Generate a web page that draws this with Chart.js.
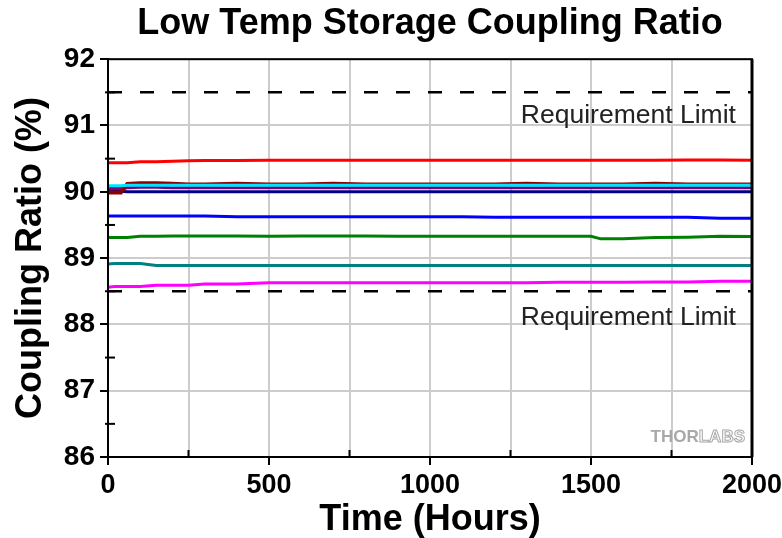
<!DOCTYPE html>
<html><head><meta charset="utf-8">
<script src="https://cdn.jsdelivr.net/npm/chart.js@4"></script>
<style>html,body{margin:0;padding:0;background:#fff}#wrap{width:782px;height:538px}</style>
</head><body><div id="wrap"><canvas id="c" width="782" height="538"></canvas></div>
<script>
const hours = [0,20,40,60,100,150,200,250,300,400,500,600,700,800,900,1000,1100,1200,1300,1400,1500,1530,1600,1700,1800,1900,2000];
const redSeries     = [90.44,90.44,90.44,90.44,90.455,90.455,90.46,90.47,90.472,90.473,90.474,90.474,90.475,90.475,90.475,90.475,90.476,90.476,90.476,90.476,90.476,90.476,90.477,90.477,90.478,90.478,90.477];
const cyanSeries    = [90.09,90.09,90.09,90.10,90.10,90.10,90.10,90.10,90.10,90.10,90.10,90.10,90.10,90.10,90.10,90.10,90.10,90.10,90.10,90.10,90.10,90.10,90.10,90.10,90.10,90.10,90.10];
const maroonSeries  = [89.99,89.99,89.99,90.12,90.13,90.13,90.12,90.11,90.11,90.12,90.11,90.11,90.12,90.11,90.11,90.11,90.11,90.11,90.12,90.11,90.11,90.11,90.11,90.12,90.11,90.11,90.11];
const purpleSeries  = [90.05,90.05,90.05,90.06,90.07,90.07,90.06,90.06,90.06,90.06,90.06,90.06,90.06,90.06,90.06,90.06,90.06,90.06,90.06,90.06,90.06,90.06,90.06,90.06,90.06,90.06,90.06];
const navySeries    = [90.01,90.01,90.01,90.00,90.00,90.00,90.00,90.00,90.00,90.00,90.00,90.00,90.00,90.00,90.00,90.00,90.00,90.00,90.00,90.00,90.00,90.00,90.00,90.00,90.00,90.00,90.00];
const blueSeries    = [89.635,89.635,89.635,89.635,89.635,89.635,89.635,89.635,89.635,89.625,89.625,89.625,89.625,89.625,89.625,89.625,89.625,89.615,89.615,89.615,89.615,89.615,89.615,89.615,89.615,89.60,89.60];
const greenSeries   = [89.31,89.31,89.31,89.31,89.33,89.33,89.335,89.335,89.335,89.335,89.33,89.335,89.335,89.335,89.33,89.33,89.33,89.33,89.33,89.33,89.33,89.29,89.29,89.31,89.315,89.33,89.325];
const tealSeries    = [88.91,88.92,88.92,88.92,88.92,88.89,88.89,88.89,88.89,88.89,88.89,88.89,88.89,88.89,88.89,88.89,88.89,88.89,88.89,88.89,88.89,88.89,88.89,88.89,88.89,88.89,88.89];
const magentaSeries = [88.56,88.57,88.57,88.57,88.57,88.59,88.59,88.59,88.61,88.61,88.63,88.63,88.63,88.63,88.63,88.63,88.63,88.63,88.63,88.635,88.635,88.635,88.635,88.64,88.64,88.65,88.65];
const upperLimit = [91.5,91.5];
const lowerLimit = [88.5,88.5];
const limitHours = [0,2000];
const yTicks = [86,87,88,89,90,91,92];
const xTicks = [0,500,1000,1500,2000];
const titleText = 'Low Temp Storage Coupling Ratio';
const xTitle = 'Time (Hours)';
const yTitle = 'Coupling Ratio (%)';
const limitLabel = 'Requirement Limit';

const pts = (xs, ys) => xs.map((x,i)=>({x, y: ys[i]}));
const line = (ys, color, w) => ({data: pts(hours, ys), borderColor: color, borderWidth: w, pointRadius: 0, fill: false, tension: 0});

const FONT = 'Arial, "Liberation Sans", sans-serif';

const extras = {
  id: 'extras',
  afterDraw(chart) {
    const {ctx, chartArea: a, scales: {x, y}} = chart;
    ctx.save();
    ctx.strokeStyle = '#000'; ctx.lineWidth = 2;
    for (let v = 250; v < 2000; v += 500) {
      const px = x.getPixelForValue(v);
      ctx.beginPath(); ctx.moveTo(px, a.bottom); ctx.lineTo(px, a.bottom - 7); ctx.stroke();
    }
    for (let v = 86.5; v < 92; v += 1) {
      const py = y.getPixelForValue(v);
      ctx.beginPath(); ctx.moveTo(a.left - 3, py); ctx.lineTo(a.left + 7, py); ctx.stroke();
    }
    ctx.lineWidth = 2;
    ctx.strokeRect(a.left, a.top, a.right - a.left, a.bottom - a.top);
    ctx.lineWidth = 3;
    ctx.beginPath(); ctx.moveTo(a.right, a.top); ctx.lineTo(a.right, a.bottom); ctx.stroke();
    ctx.fillStyle = '#222';
    ctx.font = '26.5px ' + FONT;
    ctx.textAlign = 'right'; ctx.textBaseline = 'middle';
    ctx.fillText(limitLabel, x.getPixelForValue(1950), y.getPixelForValue(91.15));
    ctx.fillText(limitLabel, x.getPixelForValue(1950), y.getPixelForValue(88.1));
    ctx.font = 'bold 17px ' + FONT;
    ctx.textAlign = 'left';
    const w1 = ctx.measureText('THOR').width, w2 = ctx.measureText('LABS').width;
    const wx = a.right - 7 - w1 - w2, wy = a.bottom - 20;
    ctx.fillStyle = '#a8a8a8';
    ctx.fillText('THOR', wx, wy);
    ctx.strokeStyle = '#a8a8a8'; ctx.lineWidth = 1;
    ctx.strokeText('LABS', wx + w1, wy);
    ctx.restore();
  }
};

new Chart(document.getElementById('c'), {
  type: 'line',
  data: {
    datasets: [
      {data: pts(limitHours, upperLimit), borderColor: '#000', borderWidth: 2.5, borderDash: [14,18], pointRadius: 0},
      {data: pts(limitHours, lowerLimit), borderColor: '#000', borderWidth: 2.5, borderDash: [14,18], pointRadius: 0},
      line(redSeries, '#ff0000', 3),
      line(cyanSeries, '#00e5ff', 3),
      line(maroonSeries, '#8b0000', 4),
      line(purpleSeries, '#800080', 3),
      line(navySeries, '#00008b', 3),
      line(blueSeries, '#0000ff', 3),
      line(greenSeries, '#008000', 3),
      line(tealSeries, '#008080', 3),
      line(magentaSeries, '#ff00ff', 3)
    ]
  },
  options: {
    responsive: false, animation: false,
    layout: {padding: {top: 0, right: 30, left: 0, bottom: 0}},
    plugins: {
      legend: {display: false}, tooltip: {enabled: false},
      title: {display: true, fullSize: false, text: titleText, color: '#000', font: {family: FONT, size: 36, weight: 'bold'}, padding: {top: 2, bottom: 14}}
    },
    scales: {
      x: {
        type: 'linear', min: 0, max: 2000,
        afterBuildTicks: s => { s.ticks = [0,250,500,750,1000,1250,1500,1750,2000].map(v => ({value: v})); },
        afterFit: s => { s.height = 81; s.paddingRight = 0; s.paddingLeft = 0; },
        ticks: {color: '#000', font: {family: FONT, size: 27, weight: 'bold'}, padding: 4, maxRotation: 0,
          callback: v => xTicks.includes(v) ? String(v) : ''},
        grid: {color: '#cccccc', lineWidth: 2, tickLength: 8, tickColor: c => (c.tick && xTicks.includes(c.tick.value)) ? '#000' : 'rgba(0,0,0,0)', tickWidth: 2},
        border: {color: '#000', width: 2},
        title: {display: true, text: xTitle, color: '#000', font: {family: FONT, size: 36, weight: 'bold', lineHeight: 1.0}, padding: {top: 0, bottom: 0}}
      },
      y: {
        type: 'linear', min: 86, max: 92,
        afterBuildTicks: s => { s.ticks = [86,86.5,87,87.5,88,88.5,89,89.5,90,90.5,91,91.5,92].map(v => ({value: v})); },
        afterFit: s => { s.width = 108; },
        ticks: {color: '#000', font: {family: FONT, size: 28, weight: 'bold'}, padding: 5,
          callback: v => yTicks.includes(v) ? String(v) : ''},
        grid: {color: '#cccccc', lineWidth: 2, tickLength: 8, tickColor: c => (c.tick && yTicks.includes(c.tick.value)) ? '#000' : 'rgba(0,0,0,0)', tickWidth: 2},
        border: {color: '#000', width: 2},
        title: {display: true, text: yTitle, color: '#000', font: {family: FONT, size: 36, weight: 'bold', lineHeight: 1.1}, padding: {top: 11, bottom: 0}}
      }
    }
  },
  plugins: [extras]
});
</script></body></html>
